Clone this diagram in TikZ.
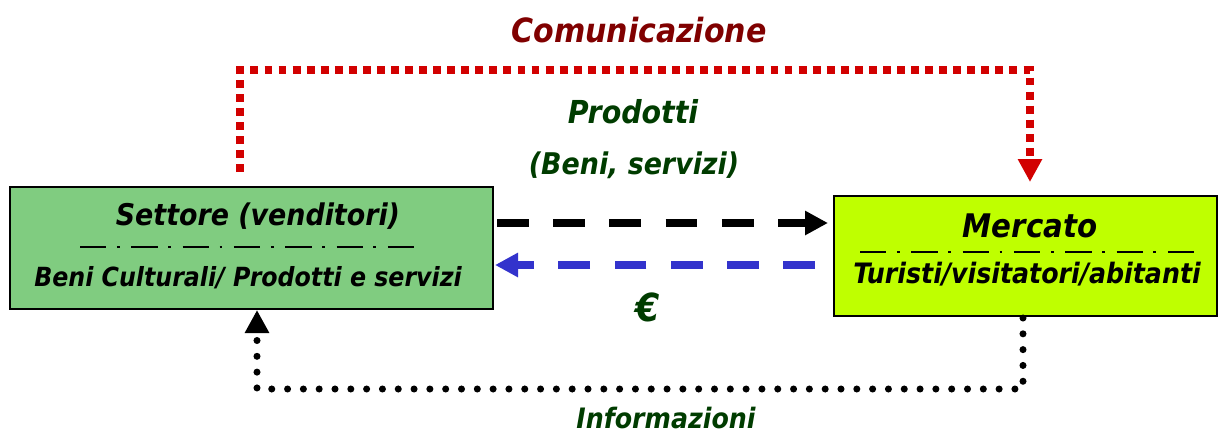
\documentclass[tikz,border=0pt]{standalone}
\usepackage{fontspec}
\usetikzlibrary{arrows.meta}
\newfontfamily\labfont{DejaVu Sans Condensed}
\definecolor{boxgreen}{RGB}{128,204,128}
\definecolor{boxlime}{RGB}{191,255,0}
\definecolor{txtgreen}{RGB}{0,60,0}
\definecolor{txtred}{RGB}{128,0,0}
\definecolor{dotred}{RGB}{210,0,0}
\definecolor{flowblue}{RGB}{51,51,204}
\tikzset{
  lab/.style={font=\labfont\bfseries\itshape, inner sep=0pt},
  boxnode/.style={draw=black, line width=1.1pt, inner sep=0pt},
  sep/.style={line width=1.6pt, dash pattern=on 15pt off 6pt on 1.7pt off 6.5pt},
  flow/.style={line width=4.3pt, dash pattern=on 18pt off 14pt, -{Triangle[length=0.46cm,width=0.46cm]}},
  redloop/.style={dotred, line width=4pt, dash pattern=on 4.5pt off 3.5pt, -{Triangle[length=0.46cm,width=0.46cm]}},
  blackloop/.style={black, line width=4pt, line cap=round, dash pattern=on 0pt off 9pt, -{Triangle[length=0.46cm,width=0.46cm]}}
}
\begin{document}
\begin{tikzpicture}[x=0.02cm, y=-0.02cm]
  \useasboundingbox (0,0) rectangle (1221,434);
  % boxes
  \node[boxnode, fill=boxgreen, minimum width=9.66cm, minimum height=2.44cm] at (251.5,248) (sett) {};
  \node[boxnode, fill=boxlime, minimum width=7.66cm, minimum height=2.40cm] at (1025.5,256) (merc) {};
  \node[lab, font=\labfont\bfseries\itshape\fontsize{17}{17}\selectfont] at (258,216) (settt) {Settore (venditori)};
  \node[lab, font=\labfont\bfseries\itshape\fontsize{15}{15}\selectfont] at (248,278) (beni) {Beni Culturali/ Prodotti e servizi};
  \node[lab, font=\labfont\bfseries\itshape\fontsize{18.5}{18.5}\selectfont] at (1030,226) (merct) {Mercato};
  \node[lab, font=\labfont\bfseries\itshape\fontsize{16}{16}\selectfont] at (1027,274) (turi) {Turisti/visitatori/abitanti};
  \coordinate (sa) at (80,247);
  \coordinate (sb) at (420,247);
  \coordinate (ma) at (860,252);
  \coordinate (mb) at (1201,252);
  \draw[sep] (sa) -- (sb);
  \draw[sep] (ma) -- (mb);
  % flows between the boxes
  \coordinate (pa) at (497,223);
  \coordinate (pb) at (828,223);
  \coordinate (ea) at (815,265);
  \coordinate (eb) at (495,265);
  \draw[flow, black] (pa) -- (pb);
  \draw[flow, flowblue] (ea) -- (eb);
  \node[lab, txtgreen, font=\labfont\bfseries\itshape\fontsize{18}{18}\selectfont] at (633,112) (prod) {Prodotti};
  \node[lab, txtgreen, font=\labfont\bfseries\itshape\fontsize{17}{17}\selectfont] at (634,165) (bs) {(Beni, servizi)};
  \node[lab, txtgreen, font=\labfont\bfseries\itshape\fontsize{22}{22}\selectfont] at (648,307) (euro) {€};
  % comunicazione
  \coordinate (ca) at (240,172);
  \coordinate (cb) at (1030,182);
  \draw[redloop] (ca) |- (cb |- 0,70) -- (cb);
  \node[lab, txtred, font=\labfont\bfseries\itshape\fontsize{19}{19}\selectfont] at (639,30) (comu) {Comunicazione};
  % informazioni
  \coordinate (ia) at (1023,318);
  \coordinate (ib) at (257,310);
  \draw[blackloop] (ia) |- (ib |- 0,389) -- (ib);
  \node[lab, txtgreen, font=\labfont\bfseries\itshape\fontsize{16}{16}\selectfont] at (666,418) (info) {Informazioni};
\end{tikzpicture}
\end{document}
